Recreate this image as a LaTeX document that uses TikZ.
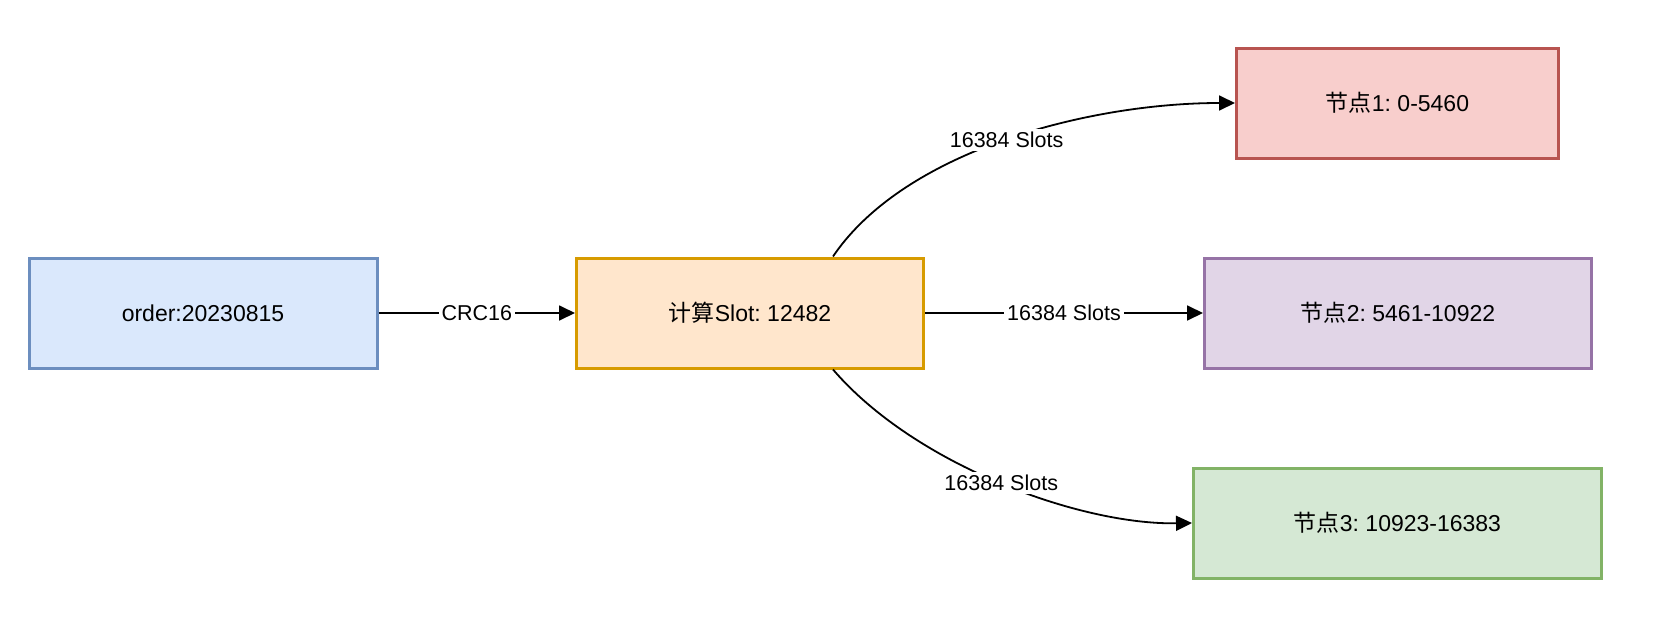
\documentclass[tikz,border=0pt]{standalone}
\usepackage{fontspec}
\setmainfont{Liberation Sans}
\newfontfamily\cjk{Noto Sans CJK SC}
\usetikzlibrary{arrows.meta}
\frenchspacing
\definecolor{bfill}{HTML}{DAE8FC}\definecolor{bdraw}{HTML}{6C8EBF}
\definecolor{ofill}{HTML}{FFE6CC}\definecolor{odraw}{HTML}{D79B00}
\definecolor{rfill}{HTML}{F8CECC}\definecolor{rdraw}{HTML}{B85450}
\definecolor{pfill}{HTML}{E1D5E7}\definecolor{pdraw}{HTML}{9673A6}
\definecolor{gfill}{HTML}{D5E8D4}\definecolor{gdraw}{HTML}{82B366}
\begin{document}
\begin{tikzpicture}[x=1pt,y=-1pt,
  box/.style={rectangle,line width=3pt,minimum height=110pt,inner sep=0pt,font=\fontsize{23}{27}\selectfont},
  lbl/.style={fill=white,inner sep=3pt,font=\fontsize{21.5}{25}\selectfont},
  arr/.style={line width=1.8pt,-{Triangle[length=16pt,width=15pt]}}]
\useasboundingbox (0,0) rectangle (1674,627);
\node[box,fill=bfill,draw=bdraw,minimum width=348pt] (order) at (203,313) {order:20230815};
\node[box,fill=ofill,draw=odraw,minimum width=347pt] (calc) at (750,313) {{\cjk 计算}Slot: 12482};
\node[box,fill=rfill,draw=rdraw,minimum width=322pt] (n1) at (1397.5,103) {{\cjk 节点}1: 0-5460};
\node[box,fill=pfill,draw=pdraw,minimum width=387pt] (n2) at (1398,313) {{\cjk 节点}2: 5461-10922};
\node[box,fill=gfill,draw=gdraw,minimum width=408pt] (n3) at (1397.5,523) {{\cjk 节点}3: 10923-16383};
\coordinate (ct) at ([xshift=83pt]calc.north);
\coordinate (cb) at ([xshift=83pt]calc.south);
\draw[arr] (order) -- node[lbl]{CRC16} (calc);
\draw[arr] (calc) -- node[lbl]{16384 Slots} (n2);
\draw[arr] (ct) .. controls (905,150) and (1090,103) .. node[lbl,pos=0.5]{16384 Slots} (n1.west);
\draw[arr] (cb) .. controls (915,465) and (1080,525) .. node[lbl,pos=0.5]{16384 Slots} (n3.west);
\end{tikzpicture}
\end{document}
